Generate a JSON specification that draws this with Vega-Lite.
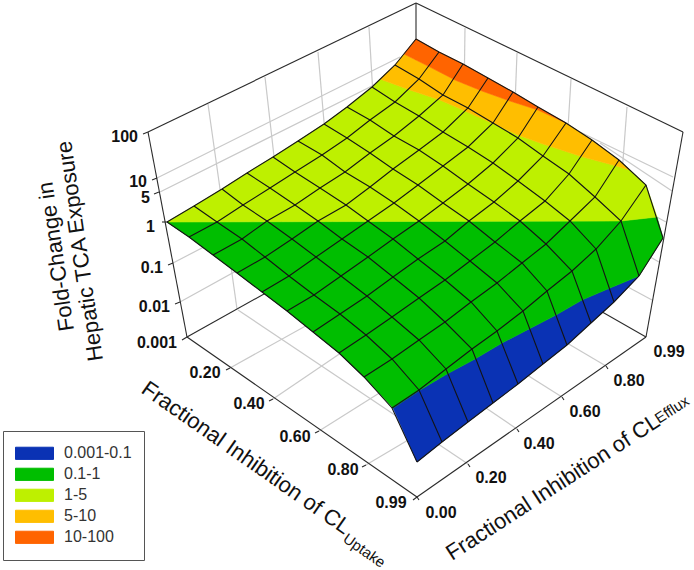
{"$schema":"https://vega.github.io/schema/vega-lite/v6.json","width":694,"height":570,"padding":0,"autosize":{"type":"none"},"background":"white","config":{"view":{"stroke":null}},"datasets":{"surface":[
{"u":0,"e":0,"x":167,"y":222},{"u":0.1,"e":0,"x":189,"y":237},{"u":0.2,"e":0,"x":213,"y":255},{"u":0.3,"e":0,"x":237,"y":273},{"u":0.4,"e":0,"x":262,"y":292},{"u":0.5,"e":0,"x":287,"y":311},{"u":0.6,"e":0,"x":313,"y":332},{"u":0.7,"e":0,"x":339,"y":353},{"u":0.8,"e":0,"x":364,"y":377},{"u":0.9,"e":0,"x":392,"y":408},{"u":0.99,"e":0,"x":417,"y":462},
{"u":0,"e":0.1,"x":194,"y":206},{"u":0.1,"e":0.1,"x":217,"y":222},{"u":0.2,"e":0.1,"x":242,"y":239},{"u":0.3,"e":0.1,"x":265,"y":257},{"u":0.4,"e":0.1,"x":289,"y":276},{"u":0.5,"e":0.1,"x":314,"y":295},{"u":0.6,"e":0.1,"x":340,"y":314},{"u":0.7,"e":0.1,"x":366,"y":335},{"u":0.8,"e":0.1,"x":392,"y":359},{"u":0.9,"e":0.1,"x":419,"y":390},{"u":0.99,"e":0.1,"x":442,"y":442},
{"u":0,"e":0.2,"x":222,"y":189},{"u":0.1,"e":0.2,"x":243,"y":205},{"u":0.2,"e":0.2,"x":267,"y":221},{"u":0.3,"e":0.2,"x":292,"y":239},{"u":0.4,"e":0.2,"x":316,"y":257},{"u":0.5,"e":0.2,"x":341,"y":276},{"u":0.6,"e":0.2,"x":367,"y":296},{"u":0.7,"e":0.2,"x":392,"y":317},{"u":0.8,"e":0.2,"x":419,"y":340},{"u":0.9,"e":0.2,"x":446,"y":369},{"u":0.99,"e":0.2,"x":468,"y":422},
{"u":0,"e":0.3,"x":247,"y":173},{"u":0.1,"e":0.3,"x":270,"y":188},{"u":0.2,"e":0.3,"x":295,"y":205},{"u":0.3,"e":0.3,"x":318,"y":221},{"u":0.4,"e":0.3,"x":342,"y":239},{"u":0.5,"e":0.3,"x":368,"y":257},{"u":0.6,"e":0.3,"x":393,"y":277},{"u":0.7,"e":0.3,"x":419,"y":298},{"u":0.8,"e":0.3,"x":445,"y":322},{"u":0.9,"e":0.3,"x":472,"y":349},{"u":0.99,"e":0.3,"x":493,"y":403},
{"u":0,"e":0.4,"x":273,"y":157},{"u":0.1,"e":0.4,"x":295,"y":172},{"u":0.2,"e":0.4,"x":320,"y":188},{"u":0.3,"e":0.4,"x":346,"y":205},{"u":0.4,"e":0.4,"x":368,"y":221},{"u":0.5,"e":0.4,"x":393,"y":239},{"u":0.6,"e":0.4,"x":418,"y":259},{"u":0.7,"e":0.4,"x":445,"y":280},{"u":0.8,"e":0.4,"x":471,"y":302},{"u":0.9,"e":0.4,"x":497,"y":331},{"u":0.99,"e":0.4,"x":518,"y":384},
{"u":0,"e":0.5,"x":298,"y":141},{"u":0.1,"e":0.5,"x":322,"y":155},{"u":0.2,"e":0.5,"x":345,"y":172},{"u":0.3,"e":0.5,"x":370,"y":187},{"u":0.4,"e":0.5,"x":394,"y":203},{"u":0.5,"e":0.5,"x":419,"y":221},{"u":0.6,"e":0.5,"x":445,"y":241},{"u":0.7,"e":0.5,"x":470,"y":261},{"u":0.8,"e":0.5,"x":497,"y":283},{"u":0.9,"e":0.5,"x":523,"y":311},{"u":0.99,"e":0.5,"x":543,"y":364},
{"u":0,"e":0.6,"x":324,"y":124},{"u":0.1,"e":0.6,"x":347,"y":138},{"u":0.2,"e":0.6,"x":370,"y":153},{"u":0.3,"e":0.6,"x":393,"y":169},{"u":0.4,"e":0.6,"x":418,"y":185},{"u":0.5,"e":0.6,"x":443,"y":203},{"u":0.6,"e":0.6,"x":469,"y":221},{"u":0.7,"e":0.6,"x":495,"y":242},{"u":0.8,"e":0.6,"x":522,"y":263},{"u":0.9,"e":0.6,"x":547,"y":291},{"u":0.99,"e":0.6,"x":567,"y":345},
{"u":0,"e":0.7,"x":347,"y":107},{"u":0.1,"e":0.7,"x":370,"y":120},{"u":0.2,"e":0.7,"x":394,"y":136},{"u":0.3,"e":0.7,"x":419,"y":150},{"u":0.4,"e":0.7,"x":443,"y":166},{"u":0.5,"e":0.7,"x":468,"y":184},{"u":0.6,"e":0.7,"x":494,"y":202},{"u":0.7,"e":0.7,"x":520,"y":221},{"u":0.8,"e":0.7,"x":546,"y":244},{"u":0.9,"e":0.7,"x":572,"y":271},{"u":0.99,"e":0.7,"x":591,"y":323},
{"u":0,"e":0.8,"x":372,"y":87},{"u":0.1,"e":0.8,"x":395,"y":102},{"u":0.2,"e":0.8,"x":419,"y":116},{"u":0.3,"e":0.8,"x":443,"y":132},{"u":0.4,"e":0.8,"x":468,"y":147},{"u":0.5,"e":0.8,"x":493,"y":163},{"u":0.6,"e":0.8,"x":518,"y":181},{"u":0.7,"e":0.8,"x":545,"y":201},{"u":0.8,"e":0.8,"x":570,"y":221},{"u":0.9,"e":0.8,"x":596,"y":249},{"u":0.99,"e":0.8,"x":614,"y":302},
{"u":0,"e":0.9,"x":395,"y":65},{"u":0.1,"e":0.9,"x":419,"y":79},{"u":0.2,"e":0.9,"x":443,"y":95},{"u":0.3,"e":0.9,"x":468,"y":108},{"u":0.4,"e":0.9,"x":493,"y":123},{"u":0.5,"e":0.9,"x":518,"y":138},{"u":0.6,"e":0.9,"x":543,"y":156},{"u":0.7,"e":0.9,"x":569,"y":174},{"u":0.8,"e":0.9,"x":595,"y":197},{"u":0.9,"e":0.9,"x":621,"y":221},{"u":0.99,"e":0.9,"x":639,"y":276},
{"u":0,"e":0.99,"x":416,"y":39},{"u":0.1,"e":0.99,"x":439,"y":52},{"u":0.2,"e":0.99,"x":463,"y":64},{"u":0.3,"e":0.99,"x":488,"y":78},{"u":0.4,"e":0.99,"x":513,"y":92},{"u":0.5,"e":0.99,"x":538,"y":107},{"u":0.6,"e":0.99,"x":566,"y":123},{"u":0.7,"e":0.99,"x":592,"y":140},{"u":0.8,"e":0.99,"x":619,"y":160},{"u":0.9,"e":0.99,"x":646,"y":185},{"u":0.99,"e":0.99,"x":663,"y":238}
],"bands":[
{"band":"0.001-0.1","n":0,"x":393,"y":408},{"band":"0.001-0.1","n":1,"x":420,"y":390},{"band":"0.001-0.1","n":2,"x":447,"y":374},{"band":"0.001-0.1","n":3,"x":475,"y":359},{"band":"0.001-0.1","n":4,"x":502,"y":343},{"band":"0.001-0.1","n":5,"x":529,"y":329},{"band":"0.001-0.1","n":6,"x":556,"y":315},{"band":"0.001-0.1","n":7,"x":582,"y":300},{"band":"0.001-0.1","n":8,"x":610,"y":288},{"band":"0.001-0.1","n":9,"x":639,"y":276},{"band":"0.001-0.1","n":10,"x":614,"y":302},{"band":"0.001-0.1","n":11,"x":591,"y":323},{"band":"0.001-0.1","n":12,"x":567,"y":345},{"band":"0.001-0.1","n":13,"x":543,"y":364},{"band":"0.001-0.1","n":14,"x":518,"y":384},{"band":"0.001-0.1","n":15,"x":493,"y":403},{"band":"0.001-0.1","n":16,"x":468,"y":422},{"band":"0.001-0.1","n":17,"x":442,"y":442},{"band":"0.001-0.1","n":18,"x":417,"y":462},{"band":"0.001-0.1","n":19,"x":393,"y":408},
{"band":"0.1-1","n":0,"x":167,"y":222},{"band":"0.1-1","n":1,"x":621,"y":221},{"band":"0.1-1","n":2,"x":657,"y":217},{"band":"0.1-1","n":3,"x":663,"y":238},{"band":"0.1-1","n":4,"x":639,"y":276},{"band":"0.1-1","n":5,"x":610,"y":288},{"band":"0.1-1","n":6,"x":582,"y":300},{"band":"0.1-1","n":7,"x":556,"y":315},{"band":"0.1-1","n":8,"x":529,"y":329},{"band":"0.1-1","n":9,"x":502,"y":343},{"band":"0.1-1","n":10,"x":475,"y":359},{"band":"0.1-1","n":11,"x":447,"y":374},{"band":"0.1-1","n":12,"x":420,"y":390},{"band":"0.1-1","n":13,"x":393,"y":408},{"band":"0.1-1","n":14,"x":364,"y":377},{"band":"0.1-1","n":15,"x":339,"y":353},{"band":"0.1-1","n":16,"x":313,"y":332},{"band":"0.1-1","n":17,"x":287,"y":311},{"band":"0.1-1","n":18,"x":262,"y":292},{"band":"0.1-1","n":19,"x":237,"y":273},{"band":"0.1-1","n":20,"x":213,"y":255},{"band":"0.1-1","n":21,"x":189,"y":237},{"band":"0.1-1","n":22,"x":167,"y":222},
{"band":"1-5","n":0,"x":167,"y":222},{"band":"1-5","n":1,"x":194,"y":206},{"band":"1-5","n":2,"x":222,"y":189},{"band":"1-5","n":3,"x":247,"y":173},{"band":"1-5","n":4,"x":273,"y":157},{"band":"1-5","n":5,"x":298,"y":141},{"band":"1-5","n":6,"x":324,"y":124},{"band":"1-5","n":7,"x":347,"y":107},{"band":"1-5","n":8,"x":372,"y":87},{"band":"1-5","n":9,"x":380,"y":79},{"band":"1-5","n":10,"x":410,"y":90},{"band":"1-5","n":11,"x":440,"y":100},{"band":"1-5","n":12,"x":463,"y":110},{"band":"1-5","n":13,"x":492,"y":123},{"band":"1-5","n":14,"x":518,"y":135},{"band":"1-5","n":15,"x":543,"y":144},{"band":"1-5","n":16,"x":583,"y":157},{"band":"1-5","n":17,"x":613,"y":165},{"band":"1-5","n":18,"x":630,"y":170},{"band":"1-5","n":19,"x":646,"y":185},{"band":"1-5","n":20,"x":657,"y":217},{"band":"1-5","n":21,"x":621,"y":221},{"band":"1-5","n":22,"x":167,"y":222},
{"band":"5-10","n":0,"x":380,"y":79},{"band":"5-10","n":1,"x":395,"y":65},{"band":"5-10","n":2,"x":404,"y":54},{"band":"5-10","n":3,"x":430,"y":67},{"band":"5-10","n":4,"x":455,"y":80},{"band":"5-10","n":5,"x":482,"y":91},{"band":"5-10","n":6,"x":510,"y":101},{"band":"5-10","n":7,"x":538,"y":110},{"band":"5-10","n":8,"x":566,"y":123},{"band":"5-10","n":9,"x":592,"y":140},{"band":"5-10","n":10,"x":619,"y":160},{"band":"5-10","n":11,"x":630,"y":170},{"band":"5-10","n":12,"x":613,"y":165},{"band":"5-10","n":13,"x":583,"y":157},{"band":"5-10","n":14,"x":543,"y":144},{"band":"5-10","n":15,"x":518,"y":135},{"band":"5-10","n":16,"x":492,"y":123},{"band":"5-10","n":17,"x":463,"y":110},{"band":"5-10","n":18,"x":440,"y":100},{"band":"5-10","n":19,"x":410,"y":90},{"band":"5-10","n":20,"x":380,"y":79},
{"band":"10-100","n":0,"x":404,"y":54},{"band":"10-100","n":1,"x":416,"y":39},{"band":"10-100","n":2,"x":439,"y":52},{"band":"10-100","n":3,"x":463,"y":64},{"band":"10-100","n":4,"x":488,"y":78},{"band":"10-100","n":5,"x":513,"y":92},{"band":"10-100","n":6,"x":538,"y":107},{"band":"10-100","n":7,"x":566,"y":123},{"band":"10-100","n":8,"x":538,"y":110},{"band":"10-100","n":9,"x":510,"y":101},{"band":"10-100","n":10,"x":482,"y":91},{"band":"10-100","n":11,"x":455,"y":80},{"band":"10-100","n":12,"x":430,"y":67},{"band":"10-100","n":13,"x":404,"y":54}
],"grid":[
{"x":208,"y":104,"x2":237,"y2":309},{"x":265,"y":77,"x2":288,"y2":280},{"x":318,"y":52,"x2":335,"y2":250},{"x":369,"y":27,"x2":380,"y2":215},
{"x":157,"y":178,"x2":400,"y2":57},{"x":160,"y":192,"x2":380,"y2":82},{"x":173,"y":263,"x2":410,"y2":140},{"x":180,"y":302,"x2":410,"y2":175},
{"x":465,"y":28,"x2":464,"y2":100},{"x":517,"y":53,"x2":514,"y2":130},{"x":571,"y":79,"x2":566,"y2":160},{"x":627,"y":107,"x2":620,"y2":200},
{"x":580,"y":132,"x2":673,"y2":177},{"x":600,"y":143,"x2":672,"y2":191},{"x":640,"y":208,"x2":666,"y2":222},{"x":620,"y":240,"x2":659,"y2":262},{"x":600,"y":272,"x2":652,"y2":300},
{"x":230,"y":368,"x2":320,"y2":318},{"x":273,"y":399,"x2":360,"y2":340},{"x":319,"y":431,"x2":400,"y2":380},{"x":366,"y":465,"x2":425,"y2":430},
{"x":238,"y":310,"x2":468,"y2":464},{"x":517,"y":429,"x2":415,"y2":360},{"x":562,"y":397,"x2":500,"y2":358},{"x":606,"y":366,"x2":550,"y2":333}
],"frame":[
{"x":148,"y":132,"x2":416,"y2":3},{"x":416,"y":3,"x2":683,"y2":132},{"x":416,"y":3,"x2":416,"y2":60},{"x":148,"y":132,"x2":187,"y2":337},{"x":683,"y":132,"x2":646,"y2":337},
{"x":187,"y":337,"x2":417,"y2":497},{"x":417,"y":497,"x2":646,"y2":337},{"x":187,"y":337,"x2":280,"y2":285},{"x":646,"y":337,"x2":590,"y2":305},
{"x":148,"y":132,"x2":143,"y2":134},{"x":157,"y":178,"x2":152,"y2":180},{"x":159,"y":192,"x2":154,"y2":194},{"x":167,"y":222,"x2":162,"y2":222},{"x":173,"y":263,"x2":168,"y2":265},{"x":180,"y":302,"x2":175,"y2":304},{"x":187,"y":337,"x2":182,"y2":340},
{"x":230,"y":368,"x2":226,"y2":370},{"x":273,"y":399,"x2":269,"y2":401},{"x":319,"y":431,"x2":315,"y2":433},{"x":366,"y":465,"x2":362,"y2":467},{"x":417,"y":497,"x2":413,"y2":500},
{"x":468,"y":464,"x2":470,"y2":467},{"x":517,"y":429,"x2":519,"y2":432},{"x":562,"y":397,"x2":564,"y2":400},{"x":606,"y":366,"x2":608,"y2":369},{"x":417,"y":497,"x2":419,"y2":500}
]},
"layer":[
{"data":{"name":"grid"},"mark":{"type":"rule","color":"#c9c9c9","strokeWidth":1.2},"encoding":{"x":{"field":"x","type":"quantitative","scale":{"domain":[0,694]},"axis":null},"y":{"field":"y","type":"quantitative","scale":{"domain":[570,0]},"axis":null},"x2":{"field":"x2"},"y2":{"field":"y2"}}},
{"data":{"name":"frame"},"mark":{"type":"rule","color":"#2a2a2a","strokeWidth":1.1},"encoding":{"x":{"field":"x","type":"quantitative","scale":{"domain":[0,694]},"axis":null},"y":{"field":"y","type":"quantitative","scale":{"domain":[570,0]},"axis":null},"x2":{"field":"x2"},"y2":{"field":"y2"}}},
{"data":{"name":"bands"},"mark":{"type":"square","size":0,"filled":true,"opacity":1,"stroke":"#222","strokeWidth":1},"encoding":{"x":{"field":"x","type":"quantitative","scale":{"domain":[0,694]},"axis":null},"y":{"field":"y","type":"quantitative","scale":{"domain":[570,0]},"axis":null},"fill":{"field":"band","type":"nominal","scale":{"domain":["0.001-0.1","0.1-1","1-5","5-10","10-100"],"range":["#0A32B4","#00BE00","#BEF000","#FFBE00","#FF6400"]},"legend":{"title":null,"orient":"none","legendX":3,"legendY":431,"padding":12,"strokeColor":"#555","fillColor":"white","symbolType":"M-1,-0.32H1V0.32H-1Z","symbolSize":1444,"symbolStrokeColor":"#222","symbolStrokeWidth":1,"symbolOpacity":1,"clipHeight":20.6,"rowPadding":0,"labelFont":"Liberation Sans","labelFontSize":16,"labelColor":"#333","labelOffset":10,"labelLimit":200}}}},
{"data":{"name":"bands"},"mark":{"type":"line","interpolate":"linear","strokeWidth":0.6},"encoding":{"x":{"field":"x","type":"quantitative","scale":{"domain":[0,694]},"axis":null},"y":{"field":"y","type":"quantitative","scale":{"domain":[570,0]},"axis":null},"order":{"field":"n","type":"quantitative"},"fill":{"field":"band","type":"nominal","scale":{"domain":["0.001-0.1","0.1-1","1-5","5-10","10-100"],"range":["#0A32B4","#00BE00","#BEF000","#FFBE00","#FF6400"]},"legend":null},"stroke":{"field":"band","type":"nominal","scale":{"domain":["0.001-0.1","0.1-1","1-5","5-10","10-100"],"range":["#0A32B4","#00BE00","#BEF000","#FFBE00","#FF6400"]},"legend":null}}},
{"data":{"name":"surface"},"mark":{"type":"line","color":"#141414","strokeWidth":1.1},"encoding":{"x":{"field":"x","type":"quantitative","scale":{"domain":[0,694]},"axis":null},"y":{"field":"y","type":"quantitative","scale":{"domain":[570,0]},"axis":null},"detail":{"field":"u"},"order":{"field":"e","type":"quantitative"}}},
{"data":{"name":"surface"},"mark":{"type":"line","color":"#141414","strokeWidth":1.1},"encoding":{"x":{"field":"x","type":"quantitative","scale":{"domain":[0,694]},"axis":null},"y":{"field":"y","type":"quantitative","scale":{"domain":[570,0]},"axis":null},"detail":{"field":"e"},"order":{"field":"u","type":"quantitative"}}},
{"data":{"values":[{"t":"100","x":138,"y":137},{"t":"10","x":147,"y":182},{"t":"5","x":150,"y":198},{"t":"1","x":155,"y":227},{"t":"0.1","x":163,"y":268},{"t":"0.01","x":170,"y":307},{"t":"0.001","x":177,"y":343}]},"mark":{"type":"text","font":"Liberation Sans","fontWeight":"bold","fontSize":16,"align":"right","baseline":"middle","color":"#111"},"encoding":{"x":{"field":"x","type":"quantitative","scale":{"domain":[0,694]},"axis":null},"y":{"field":"y","type":"quantitative","scale":{"domain":[570,0]},"axis":null},"text":{"field":"t"}}},
{"data":{"values":[{"t":"0.20","x":205,"y":373},{"t":"0.40","x":249,"y":404},{"t":"0.60","x":295,"y":437},{"t":"0.80","x":343,"y":470},{"t":"0.99","x":391,"y":503},{"t":"0.00","x":441,"y":513},{"t":"0.20","x":491,"y":478},{"t":"0.40","x":539,"y":444},{"t":"0.60","x":585,"y":412},{"t":"0.80","x":629,"y":381},{"t":"0.99","x":669,"y":352}]},"mark":{"type":"text","font":"Liberation Sans","fontWeight":"bold","fontSize":16,"align":"center","baseline":"middle","color":"#111"},"encoding":{"x":{"field":"x","type":"quantitative","scale":{"domain":[0,694]},"axis":null},"y":{"field":"y","type":"quantitative","scale":{"domain":[570,0]},"axis":null},"text":{"field":"t"}}},
{"data":{"values":[{"t":"Fold-Change in","x":74,"y":330},{"t":"Hepatic TCA Exposure","x":103,"y":360}]},"mark":{"type":"text","font":"Liberation Sans","fontSize":22,"align":"left","baseline":"alphabetic","angle":261.7,"color":"#111"},"encoding":{"x":{"field":"x","type":"quantitative","scale":{"domain":[0,694]},"axis":null},"y":{"field":"y","type":"quantitative","scale":{"domain":[570,0]},"axis":null},"text":{"field":"t"}}},
{"data":{"values":[{"t":"Fractional Inhibition of CL","x":140,"y":392}]},"mark":{"type":"text","font":"Liberation Sans","fontSize":22,"align":"left","baseline":"alphabetic","angle":35,"color":"#111"},"encoding":{"x":{"field":"x","type":"quantitative","scale":{"domain":[0,694]},"axis":null},"y":{"field":"y","type":"quantitative","scale":{"domain":[570,0]},"axis":null},"text":{"field":"t"}}},
{"data":{"values":[{"t":"Uptake","x":342,"y":541}]},"mark":{"type":"text","font":"Liberation Sans","fontSize":15,"align":"left","baseline":"alphabetic","angle":35,"color":"#111"},"encoding":{"x":{"field":"x","type":"quantitative","scale":{"domain":[0,694]},"axis":null},"y":{"field":"y","type":"quantitative","scale":{"domain":[570,0]},"axis":null},"text":{"field":"t"}}},
{"data":{"values":[{"t":"Fractional Inhibition of CL","x":452,"y":561}]},"mark":{"type":"text","font":"Liberation Sans","fontSize":22,"align":"left","baseline":"alphabetic","angle":327,"color":"#111"},"encoding":{"x":{"field":"x","type":"quantitative","scale":{"domain":[0,694]},"axis":null},"y":{"field":"y","type":"quantitative","scale":{"domain":[570,0]},"axis":null},"text":{"field":"t"}}},
{"data":{"values":[{"t":"Efflux","x":659,"y":424}]},"mark":{"type":"text","font":"Liberation Sans","fontSize":15,"align":"left","baseline":"alphabetic","angle":327,"color":"#111"},"encoding":{"x":{"field":"x","type":"quantitative","scale":{"domain":[0,694]},"axis":null},"y":{"field":"y","type":"quantitative","scale":{"domain":[570,0]},"axis":null},"text":{"field":"t"}}}
]}
